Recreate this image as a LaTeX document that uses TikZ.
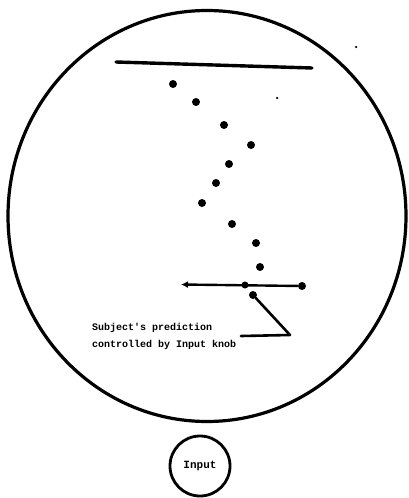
\documentclass[tikz,border=0pt]{standalone}
\usepackage{fontspec}
\setmonofont{Liberation Mono}
\usetikzlibrary{arrows.meta,shapes.geometric}
\begin{document}
\begin{tikzpicture}[x=1pt,y=-1pt,
  dot/.style={circle,fill=black,inner sep=0pt,minimum size=8pt},
  speck/.style={circle,fill=black,inner sep=0pt,minimum size=2.5pt},
  labeltext/.style={font=\ttfamily\bfseries\fontsize{10}{17}\selectfont,align=left,inner sep=0pt}]
\useasboundingbox (0,0) rectangle (408,498);
% screen
\node (screen) [draw,line width=3.2pt,ellipse,minimum width=398pt,minimum height=411pt,inner sep=0pt] at (207,216) {};
% top line
\coordinate (topL) at (116,62);
\coordinate (topR) at (312,68);
\draw[line width=3.4pt,line cap=round] (topL) -- (topR);
% falling dots
\node[dot] (d1) at (173,84) {};
\node[dot] (d2) at (196,102) {};
\node[dot] (d3) at (224,125) {};
\node[dot] (d4) at (251,145) {};
\node[dot] (d5) at (229,164) {};
\node[dot] (d6) at (216,183) {};
\node[dot] (d7) at (202,203) {};
\node[dot] (d8) at (232,224) {};
\node[dot] (d9) at (256,243) {};
\node[dot] (d10) at (260,267) {};
% specks
\node[speck] (s1) at (356,47) {};
\node[speck] (s2) at (277,98) {};
% prediction line
\coordinate (arrL) at (181,284.5);
\node[dot] (endR) at (302,286) {};
\draw[line width=2.4pt,-{Latex[length=7pt,width=7pt]}] (endR) -- (arrL);
\node[dot,minimum size=7pt] (mid) at (245,285) {};
% pointer dot and leader
\node[dot] (pred) at (253,295) {};
\coordinate (bend) at (290,335);
\coordinate (leadEnd) at (241,336);
\draw[line width=2.6pt,line cap=round,line join=round] (pred) -- (bend) -- (leadEnd);
% label
\node[labeltext,anchor=north west] (label) at (92,323) {Subject's prediction\\controlled by Input knob};
% input knob
\node (input) [draw,circle,line width=2.8pt,minimum size=60pt,inner sep=0pt,font=\ttfamily\bfseries\fontsize{11}{13}\selectfont] at (200,466) {Input};
\end{tikzpicture}
\end{document}
